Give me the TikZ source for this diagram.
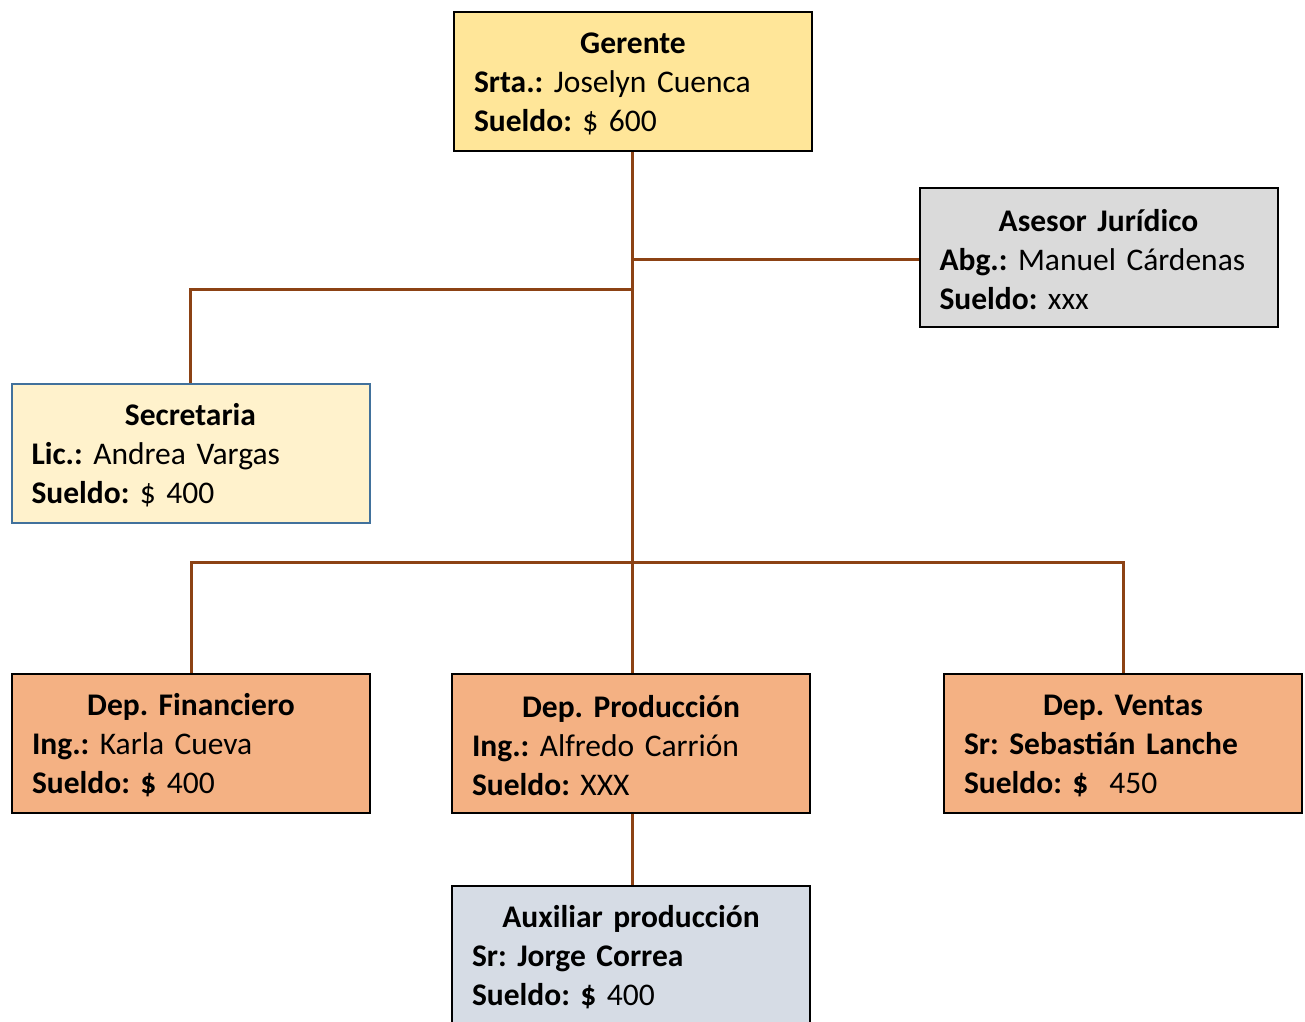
\documentclass[tikz,border=0pt]{standalone}
\usepackage{fontspec}
\setmainfont{Carlito}
\usetikzlibrary{positioning}
\definecolor{gerentefill}{RGB}{255,230,153}
\definecolor{secrefill}{RGB}{255,242,204}
\definecolor{secreline}{RGB}{65,113,156}
\definecolor{asesorfill}{RGB}{218,218,218}
\definecolor{depfill}{RGB}{244,177,131}
\definecolor{auxfill}{RGB}{214,220,229}
\definecolor{linkcolor}{RGB}{140,66,20}
\frenchspacing
\tikzset{
  orgbox/.style= {
    rectangle,
    draw = black,
    line width = 2pt,
    text width = 318pt,
    inner xsep = 20pt,
    inner ysep = 0pt,
    minimum height = 139pt,
    align = left,
    font = \fontsize{31.5}{39}\selectfont
  },
  link/.style= {
    draw = linkcolor,
    line width = 3pt
  }
}
\newcommand{\orgtext}[3]{{\centering\rule{0pt}{26pt}\textbf{#1}\par}#2\\#3}

\begin{document}
\begin{tikzpicture}[x=1pt,y=-1pt]
  \useasboundingbox (0,0) rectangle (1305,1021);

  \node[orgbox,fill=gerentefill] (gerente) at (633,81.5)
    {\orgtext{Gerente}{\textbf{Srta.:} Joselyn Cuenca}{\textbf{Sueldo:} \$ 600}};
  \node[orgbox,fill=asesorfill] (asesor) at (1098.5,257.5)
    {\orgtext{Asesor Jurídico}{\textbf{Abg.:} Manuel Cárdenas}{\textbf{Sueldo:} xxx}};
  \node[orgbox,fill=secrefill,draw=secreline] (secretaria) at (190.5,453.5)
    {\orgtext{Secretaria}{\textbf{Lic.:} Andrea Vargas}{\textbf{Sueldo:} \$ 400}};

  \node[orgbox,fill=depfill] (financiero) at (191,743.5)
    {\orgtext{Dep. Financiero}{\textbf{Ing.:} Karla Cueva}{\textbf{Sueldo: \$} 400}};
  \node[orgbox,fill=depfill] (produccion) at (631,743.5)
    {\orgtext{Dep. Producción}{\textbf{Ing.:} Alfredo Carrión}{\textbf{Sueldo:} XXX}};
  \node[orgbox,fill=depfill] (ventas) at (1123,743.5)
    {\orgtext{Dep. Ventas}{\textbf{Sr: Sebastián Lanche}}{\textbf{Sueldo: \$}\ \ 450}};

  \node[orgbox,fill=auxfill] (auxiliar) at (631,955.5)
    {\orgtext{Auxiliar producción}{\textbf{Sr: Jorge Correa}}{\textbf{Sueldo: \$} 400}};

  % junctions on the trunk
  \coordinate (jsec) at (632,289);
  \coordinate (jdep) at (632,562);

  \draw[link] (gerente.south -| jsec) -- (produccion.north -| jsec);
  \draw[link] ([yshift=-1.5pt]asesor.west) -- ([yshift=-1.5pt]asesor.west -| jsec);
  \draw[link] (secretaria.north) |- (jsec);
  \draw[link] (financiero.north) |- (jdep) -| (ventas.north);
  \draw[link] (produccion.south -| jsec) -- (auxiliar.north -| jsec);

\end{tikzpicture}
\end{document}
